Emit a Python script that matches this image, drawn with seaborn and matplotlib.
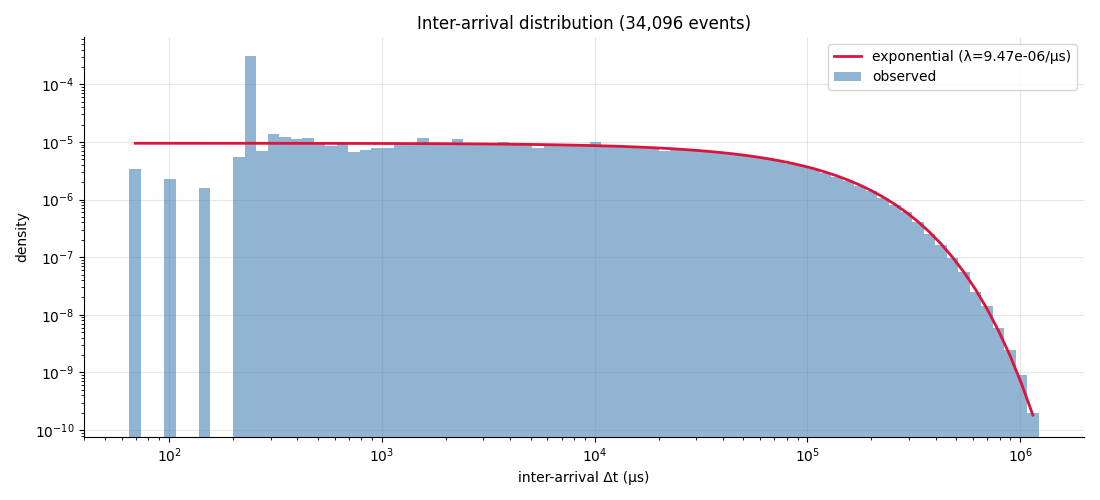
import numpy as np
import pandas as pd
import seaborn as sns
from matplotlib import pyplot as plt
from matplotlib.lines import Line2D
from matplotlib.patches import Patch

# histogram: 79 log-spaced bins between min and max delta
T_MIN = 65.2
T_MAX = 1.22e6
N_BINS = 79
N_EVENTS = 34096
LAMBDA = 9.47e-06

density = [
    3.4e-6, 0, 0, 2.27e-6, 0, 0, 1.58e-6, 0, 0, 5.47e-6,
    3.1e-4, 6.95e-6, 1.37e-5, 1.22e-5, 1.12e-5, 1.17e-5, 9.8e-6, 8.5e-6, 9.4e-6, 6.7e-6,
    7.2e-6, 7.8e-6, 7.8e-6, 9.3e-6, 9.3e-6, 1.17e-5, 9.6e-6, 9.6e-6, 1.12e-5, 9.5e-6,
    9.5e-6, 9.3e-6, 1.0e-5, 9.4e-6, 8.8e-6, 7.9e-6, 8.6e-6, 8.9e-6, 8.8e-6, 8.5e-6,
    9.8e-6, 8.6e-6, 8.4e-6, 8.2e-6, 8.1e-6, 7.9e-6, 7.0e-6, 7.4e-6, 7.2e-6, 6.9e-6,
    6.7e-6, 6.4e-6, 6.1e-6, 5.7e-6, 5.4e-6, 5.0e-6, 4.6e-6, 4.2e-6, 3.8e-6, 3.35e-6,
    2.9e-6, 2.5e-6, 2.1e-6, 1.72e-6, 1.38e-6, 1.07e-6, 7.97e-7, 6.0e-7, 4.05e-7, 2.57e-7,
    1.62e-7, 9.5e-8, 5.5e-8, 2.47e-8, 1.41e-8, 6.0e-9, 2.5e-9, 8.9e-10, 2.02e-10,
]

log_edges = np.linspace(np.log10(T_MIN), np.log10(T_MAX), N_BINS + 1)
centers = 10 ** ((log_edges[:-1] + log_edges[1:]) / 2)
fit = LAMBDA * np.exp(-LAMBDA * centers)

hist_df = pd.DataFrame({"dt": centers, "density": density})

fig, ax = plt.subplots(figsize=(11, 5), dpi=100)
plt.subplots_adjust(left=0.0764, right=0.9855, top=0.926, bottom=0.126)

sns.histplot(data=hist_df, x="dt", weights="density", bins=list(log_edges),
             log_scale=True, stat="count", element="bars", color="steelblue",
             alpha=0.6, linewidth=0, ax=ax)
ax.set_yscale("log")
sns.lineplot(x=centers, y=fit, color="crimson", linewidth=2, ax=ax, zorder=3)

ax.set_ylim(7.6e-11, 6.6e-4)
ax.grid(True, which="major", alpha=0.3)
ax.set_axisbelow(True)
ax.set_title(f"Inter-arrival distribution ({N_EVENTS:,} events)")
ax.set_xlabel("inter-arrival Δt (µs)")
ax.set_ylabel("density")
sns.despine(ax=ax)

handles = [Line2D([], [], color="crimson", linewidth=2),
           Patch(facecolor="steelblue", alpha=0.6)]
ax.legend(handles, [f"exponential (λ={LAMBDA:.2e}/µs)", "observed"], loc="upper right")

plt.savefig("out.png")
